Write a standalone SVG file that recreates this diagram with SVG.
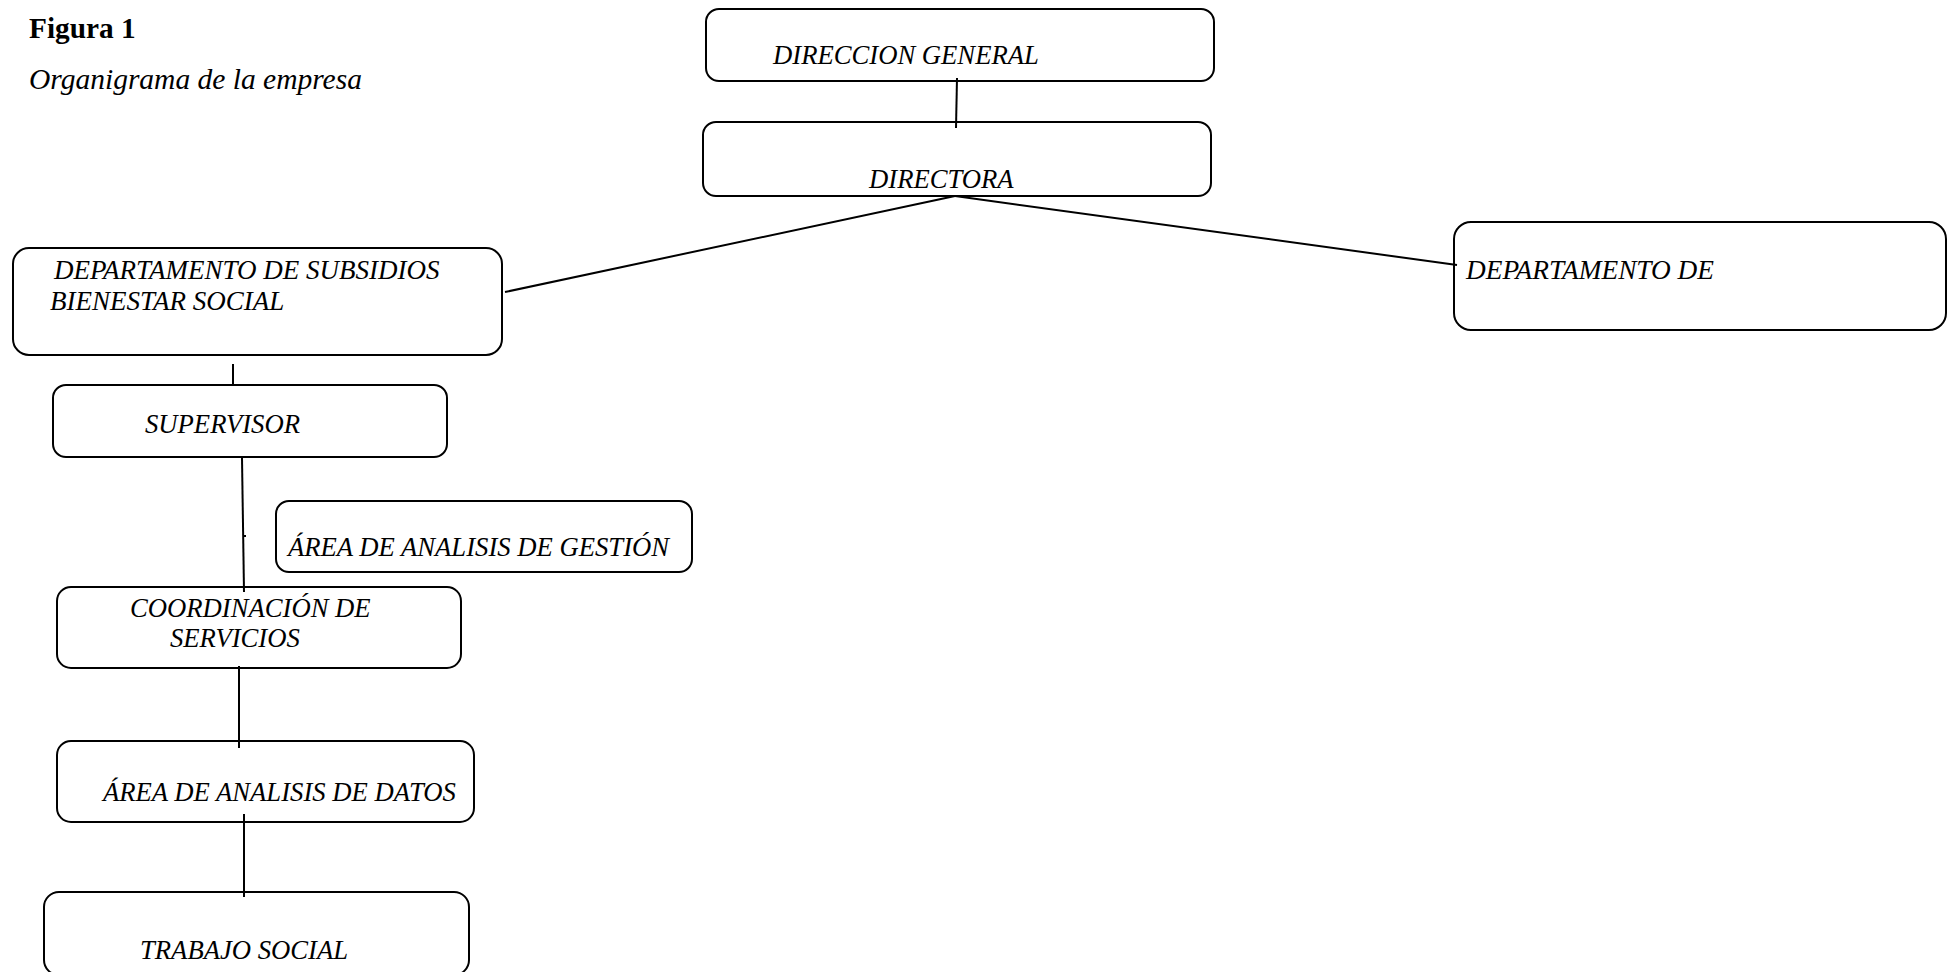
<svg xmlns="http://www.w3.org/2000/svg" width="1955" height="972" viewBox="0 0 1955 972">
<style>
.box{fill:#fff;stroke:#000;stroke-width:2}
.t{font-family:"Liberation Serif","Times New Roman",serif;font-style:italic;font-size:26.67px;fill:#000}
.conn line{stroke:#000;stroke-width:2}
</style>
<rect width="1955" height="972" fill="#fff"/>
<g id="title">
<text x="29" y="38" style="font-family:'Liberation Serif',serif;font-weight:bold;font-size:29.3px">Figura 1</text>
<text x="29" y="89" style="font-family:'Liberation Serif',serif;font-style:italic;font-size:29.5px">Organigrama de la empresa</text>
</g>
<g id="direccion-general"><rect class="box" x="706" y="9" width="508" height="72" rx="13"/><text class="t" x="773" y="64">DIRECCION GENERAL</text></g>
<g id="directora"><rect class="box" x="703" y="122" width="508" height="74" rx="13"/><text class="t" x="869" y="188">DIRECTORA</text></g>
<g id="dept-subsidios"><rect class="box" x="13" y="248" width="489" height="107" rx="16"/><text class="t" x="54" y="279" style="font-size:27px">DEPARTAMENTO DE SUBSIDIOS</text><text class="t" x="50" y="310" style="font-size:27px">BIENESTAR SOCIAL</text></g>
<g id="dept-de"><rect class="box" x="1454" y="222" width="492" height="108" rx="17"/><text class="t" x="1466" y="279" style="font-size:27.3px">DEPARTAMENTO DE</text></g>
<g id="supervisor"><rect class="box" x="53" y="385" width="394" height="72" rx="13"/><text class="t" x="145" y="433">SUPERVISOR</text></g>
<g id="area-gestion"><rect class="box" x="276" y="501" width="416" height="71" rx="13"/><text class="t" x="288" y="556">ÁREA DE ANALISIS DE GESTIÓN</text></g>
<g id="coordinacion"><rect class="box" x="57" y="587" width="404" height="81" rx="14"/><text class="t" x="130" y="617">COORDINACIÓN DE</text><text class="t" x="170" y="647">SERVICIOS</text></g>
<g id="area-datos"><rect class="box" x="57" y="741" width="417" height="81" rx="14"/><text class="t" x="103" y="801">ÁREA DE ANALISIS DE DATOS</text></g>
<g id="trabajo-social"><rect class="box" x="44" y="892" width="425" height="83" rx="15"/><text class="t" x="140" y="959">TRABAJO SOCIAL</text></g>
<g class="conn" id="connectors">
<line x1="957" y1="78" x2="956" y2="128"/>
<line x1="955" y1="196" x2="505" y2="292"/>
<line x1="955" y1="196" x2="1457" y2="265"/>
<line x1="233" y1="364" x2="233" y2="386"/>
<line x1="242" y1="458" x2="244" y2="592"/>
<line x1="243" y1="536" x2="246" y2="536"/>
<line x1="239" y1="666" x2="239" y2="748"/>
<line x1="244" y1="814" x2="244" y2="897"/>
</g>
</svg>
